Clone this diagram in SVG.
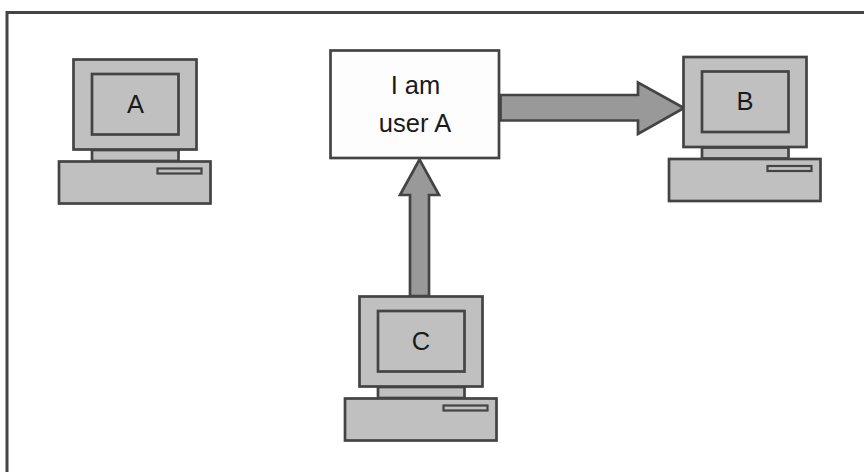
<svg xmlns="http://www.w3.org/2000/svg" width="864" height="472" viewBox="0 0 864 472">
<style>
.l{stroke:#444;stroke-width:2.700;fill:#c0c0c0}
.s{stroke:#444;stroke-width:2.200;fill:#c0c0c0}
.a{stroke:#444;stroke-width:2.700;fill:#999;stroke-linejoin:miter}
text{font-family:"Liberation Sans",Arial,sans-serif;font-size:25.500px;fill:#1a1a1a;text-anchor:middle}
</style>
<defs>
<g id="pc">
<rect class="l" x="92" y="150" width="86.500" height="11"/>
<rect class="l" x="73.500" y="59.500" width="123" height="90"/>
<rect class="l" x="92" y="74" width="86.500" height="60.500"/>
<rect class="l" x="59" y="161.500" width="151.500" height="42"/>
<rect class="s" x="157.500" y="168.500" width="44" height="5"/>
</g>
</defs>
<rect width="864" height="472" fill="#fff"/>
<path d="M7 472V12.500H864" fill="none" stroke="#444" stroke-width="3"/>
<g id="connectors">
<path class="a" d="M500.500 95H638V82.500L684 108L638 134V120.500H500.500Z"/>
<path class="a" d="M410 296V195H400L419.500 159.500L439 195H429V296Z"/>
</g>
<g id="node-a"><use href="#pc"/><text x="135.500" y="113">A</text></g>
<g id="node-b"><use href="#pc" x="610" y="-2.500"/><text x="745" y="110">B</text></g>
<g id="node-c"><use href="#pc" x="286" y="237"/><text x="421" y="350">C</text></g>
<g id="node-msg">
<rect x="330.500" y="50.500" width="168.500" height="107.500" fill="#fdfdfd" stroke="#444" stroke-width="2.700"/>
<text x="415.500" y="94">I am</text>
<text x="415" y="132">user A</text>
</g>
</svg>
